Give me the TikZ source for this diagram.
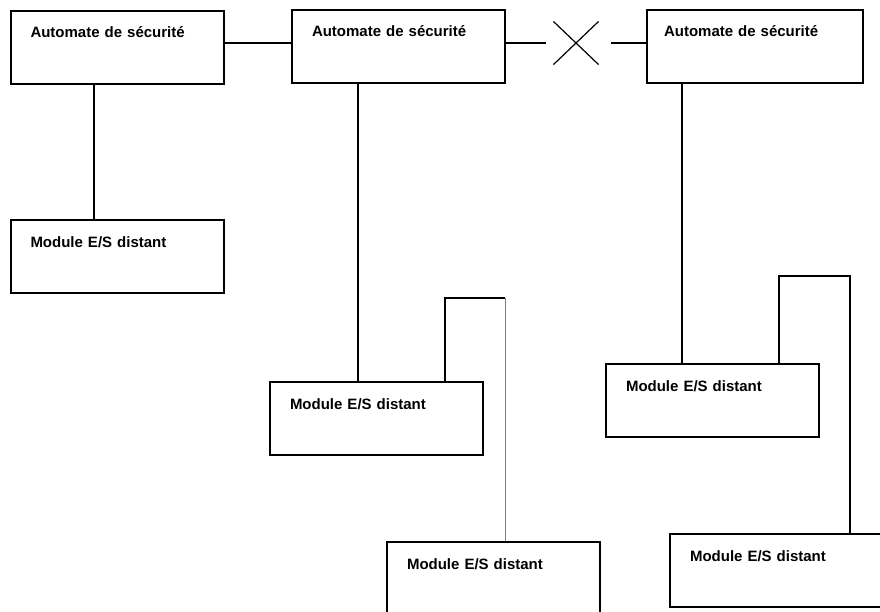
\documentclass[tikz,border=0pt]{standalone}
\usepackage{fontspec}
\setmainfont{Liberation Sans}
\usetikzlibrary{shapes.misc}
\tikzset{
  unit/.style={draw, line width=2pt, anchor=north west, inner xsep=20pt, inner ysep=0pt,
    text width=173pt, text height=27pt, text depth=46pt, align=left,
    font=\fontsize{15}{18}\selectfont\bfseries},
  bus/.style={line width=2pt},
}

\begin{document}
\begin{tikzpicture}[x=1pt, y=-1pt]
      \useasboundingbox (0,0) rectangle (880,611);
      \clip (0,0) rectangle (880,611);
      % Define nodes
      \node[unit] (aut1) at (9.5,9.5) {Automate de sécurité};
      \node[unit] (aut2) at (291,8.5) {Automate de sécurité};
      \node[unit, inner xsep=17pt, text width=182pt] (aut3) at (646,8.5) {Automate de sécurité};
      \node[unit] (mod1) at (9.5,219) {Module E/S distant};
      \node[unit] (mod2) at (269,381) {Module E/S distant};
      \node[unit] (mod3) at (386,541) {Module E/S distant};
      \node[unit] (mod4) at (605,363) {Module E/S distant};
      \node[unit] (mod5) at (669,533) {Module E/S distant};
      \node[cross out, draw, line width=1.2pt, minimum width=44pt, minimum height=42pt, inner sep=0pt] (brk) at (576,43) {};
      \coordinate (hop2) at (505,298);
      \coordinate (hop3) at (850,276);
      % Links between controllers
      \draw[bus] (aut1.east |- brk.west) -- (aut2.west |- brk.west);
      \draw[bus] (aut2.east |- brk.west) -- ([xshift=-7pt]brk.west);
      \draw[bus] ([xshift=12pt]brk.east) -- (aut3.west |- brk.east);
      % Links to remote modules
      \draw[bus] ([xshift=84.5pt]aut1.south west) -- ([xshift=84.5pt]aut1.south west |- mod1.north);
      \draw[bus] ([xshift=67pt]aut2.south west) -- ([xshift=67pt]aut2.south west |- mod2.north);
      \draw[bus] ([xshift=176pt]mod2.north west) |- (hop2);
      \draw[line width=1pt, gray] (hop2) -- (hop2 |- mod3.north);
      \draw[bus] ([xshift=36pt]aut3.south west) -- ([xshift=36pt]aut3.south west |- mod4.north);
      \draw[bus] ([xshift=174pt]mod4.north west) |- (hop3) -- (hop3 |- mod5.north);
\end{tikzpicture}
\end{document}
